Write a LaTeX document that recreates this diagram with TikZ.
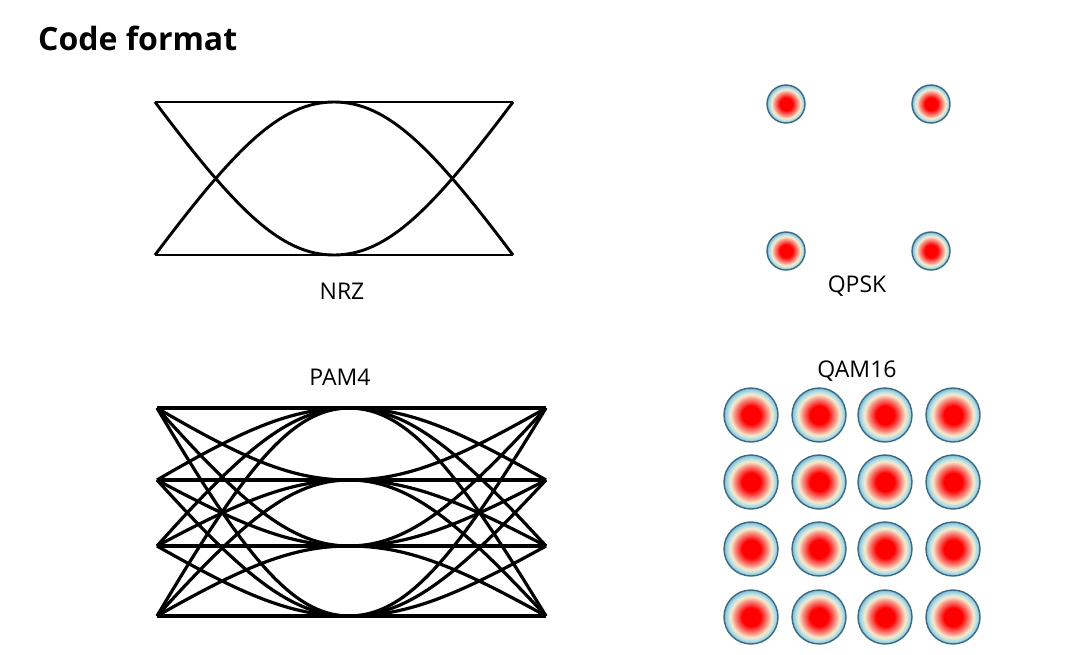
\documentclass[tikz,border=0pt]{standalone}
\usepackage{fontspec}
\setmainfont{Open Sans}

\definecolor{dotred}{HTML}{FF0000}
\definecolor{dotpink}{HTML}{F7978A}
\definecolor{dotcream}{HTML}{F8EBCB}
\definecolor{dotlblue}{HTML}{B4DEE6}
\definecolor{dotblue}{HTML}{78B8D0}
\definecolor{dotedge}{HTML}{3C6A82}

\pgfdeclareradialshading{qamdot}{\pgfpoint{0bp}{0bp}}{%
  color(0bp)=(dotred); color(8.5bp)=(dotred); color(15.5bp)=(dotpink);
  color(19bp)=(dotcream); color(22bp)=(dotlblue); color(25bp)=(dotblue);
  color(50bp)=(dotblue)}

% demi-transition : depart anguleux, arrivee horizontale
\newcommand{\halfeye}[4]{%
  \draw (#1,#2) .. controls ({#1+0.45*(#3-#1)},{#2+0.7*(#4-#2)})
    and ({#3-0.3*(#3-#1)},#4) .. (#3,#4);}

\tikzset{
  eyeline/.style={line width=2.9pt, line join=round},
  label/.style={font=\fontsize{23}{28}\selectfont},
  dot/.style={shading=qamdot, draw=dotedge, line width=1.4pt}
}

\begin{document}
\begin{tikzpicture}[x=1pt, y=-1pt]
  \useasboundingbox (0,0) rectangle (1067,654);
  \node[anchor=base west, inner sep=0pt, font=\fontsize{32}{38}\selectfont\bfseries] (title) at (38,50) {Code format};

  % diagramme de l'oeil NRZ
  \begin{scope}[eyeline]
    \foreach \a in {102,255} {
      \draw (155,\a) -- (513,\a);
      \foreach \b in {102,255} {
        \halfeye{155}{\a}{334}{\b}
        \halfeye{513}{\a}{334}{\b}
      }
    }
  \end{scope}
  \node[label] (nrz) at (342,291) {NRZ};

  % diagramme de l'oeil PAM4, quatre niveaux
  \begin{scope}[eyeline, line width=3.2pt]
    \foreach \a in {408,480,546,616} {
      \draw (157,\a) -- (546,\a);
      \foreach \b in {408,480,546,616} {
        \halfeye{157}{\a}{349}{\b}
        \halfeye{546}{\a}{349}{\b}
      }
    }
  \end{scope}
  \node[label] (pam) at (340,377) {PAM4};

  % constellation QPSK
  \foreach \x in {786,931} {
    \foreach \y in {104,251} {
      \shade[dot] (\x,\y) circle (19pt);
    }
  }
  \node[label] (qpsk) at (857,286) {QPSK};

  % constellation QAM16
  \foreach \x in {751,819,885,953} {
    \foreach \y in {415,482,549,617} {
      \shade[dot] (\x,\y) circle (27pt);
    }
  }
  \node[label] (qam) at (857,371) {QAM16};
\end{tikzpicture}
\end{document}
